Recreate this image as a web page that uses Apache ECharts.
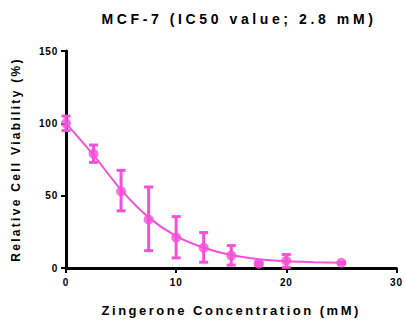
<!DOCTYPE html>
<html><head><meta charset="utf-8">
<script src="https://cdn.jsdelivr.net/npm/echarts@6/dist/echarts.min.js"></script>
<style>html,body{margin:0;padding:0;background:#fff}#c{width:405px;height:322px}</style>
</head><body><div id="c"></div>
<script>
const concentrations = [0, 2.5, 5, 7.5, 10, 12.5, 15, 17.5, 20, 25];
const viability = [100, 79, 53, 33.5, 21, 14, 8.6, 3, 5, 3.6];
const errLow = [95, 73, 39.5, 12, 7, 4, 2, 2, 0.5, 3];
const errHigh = [105, 85, 67.5, 56, 35.5, 24.5, 15.5, 4, 9.3, 4];
const fitX = [0, 2.5, 5, 7.5, 10, 12.5, 15, 17.5, 20, 22.5, 25];
const fitY = [100, 78, 54, 35, 22, 14, 9, 6, 4.6, 4, 3.6];
const xTicks = [0, 10, 20, 30];
const yTicks = [0, 50, 100, 150];
const color = '#F550D8';

const pts = concentrations.map((x, i) => [x, viability[i]]);
const errs = concentrations.map((x, i) => [x, errLow[i], errHigh[i]]);
const fit = fitX.map((x, i) => [x, fitY[i]]);

const chart = echarts.init(document.getElementById('c'), null, {renderer: 'svg'});
chart.setOption({
  animation: false,
  title: {
    text: 'MCF-7 (IC50 value; 2.8 mM)',
    left: 234, top: 7, textAlign: 'center',
    textStyle: {fontFamily: 'Liberation Sans, Arial', fontWeight: 'bold', fontSize: 14, color: '#000'}
  },
  grid: {left: 66, right: 7, top: 51, bottom: 51},
  xAxis: {
    type: 'value', min: xTicks[0], max: xTicks[xTicks.length - 1], interval: 10,
    name: 'Zingerone Concentration (mM)', nameLocation: 'middle', nameGap: 36,
    nameTextStyle: {fontFamily: 'Liberation Sans, Arial', fontWeight: 'bold', fontSize: 13, color: '#000'},
    axisLine: {lineStyle: {color: '#000', width: 3}},
    axisTick: {lineStyle: {color: '#000', width: 2}, length: 5},
    axisLabel: {fontFamily: 'Liberation Sans, Arial', fontWeight: 'bold', fontSize: 10, color: '#000', margin: 9},
    splitLine: {show: false}
  },
  yAxis: {
    type: 'value', min: yTicks[0], max: yTicks[yTicks.length - 1], interval: 50,
    name: 'Relative Cell Viability (%)', nameLocation: 'middle', nameGap: 44,
    nameTextStyle: {fontFamily: 'Liberation Sans, Arial', fontWeight: 'bold', fontSize: 12, color: '#000'},
    axisLine: {show: true, lineStyle: {color: '#000', width: 3}},
    axisTick: {show: true, lineStyle: {color: '#000', width: 2}, length: 5},
    axisLabel: {fontFamily: 'Liberation Sans, Arial', fontWeight: 'bold', fontSize: 10, color: '#000', margin: 8},
    splitLine: {show: false}
  },
  series: [
    {
      type: 'line', data: fit, smooth: 0.3, showSymbol: false,
      lineStyle: {color: color, width: 2}, z: 2
    },
    {
      type: 'custom', data: errs, z: 3,
      renderItem: function (params, api) {
        const x = api.value(0);
        const lo = api.coord([x, api.value(1)]);
        const hi = api.coord([x, api.value(2)]);
        const w = 4.5;
        const st = {stroke: color, lineWidth: 3};
        return {type: 'group', children: [
          {type: 'line', shape: {x1: lo[0], y1: lo[1], x2: hi[0], y2: hi[1]}, style: st},
          {type: 'line', shape: {x1: lo[0]-w, y1: lo[1], x2: lo[0]+w, y2: lo[1]}, style: st},
          {type: 'line', shape: {x1: hi[0]-w, y1: hi[1], x2: hi[0]+w, y2: hi[1]}, style: st}
        ]};
      }
    },
    {
      type: 'scatter', data: pts, symbol: 'circle', symbolSize: 10,
      itemStyle: {color: color}, z: 4
    }
  ]
});
function spacing() {
  document.querySelectorAll('#c text, #c tspan').forEach(t => {
    const s = t.textContent || '';
    let v = '0.8px';
    if (s.indexOf('MCF') >= 0) v = '3.6px';
    else if (s.indexOf('Zing') >= 0) v = '2.5px';
    else if (s.indexOf('Rel') >= 0) v = '2.3px';
    if (t.style.letterSpacing !== v) { t.style.letterSpacing = v; t.setAttribute('letter-spacing', v); }
  });
}
spacing();
chart.on('finished', spacing);
new MutationObserver(spacing).observe(document.getElementById('c'), {childList: true, subtree: true, characterData: true});
setTimeout(spacing, 50);
setTimeout(spacing, 300);
</script></body></html>
